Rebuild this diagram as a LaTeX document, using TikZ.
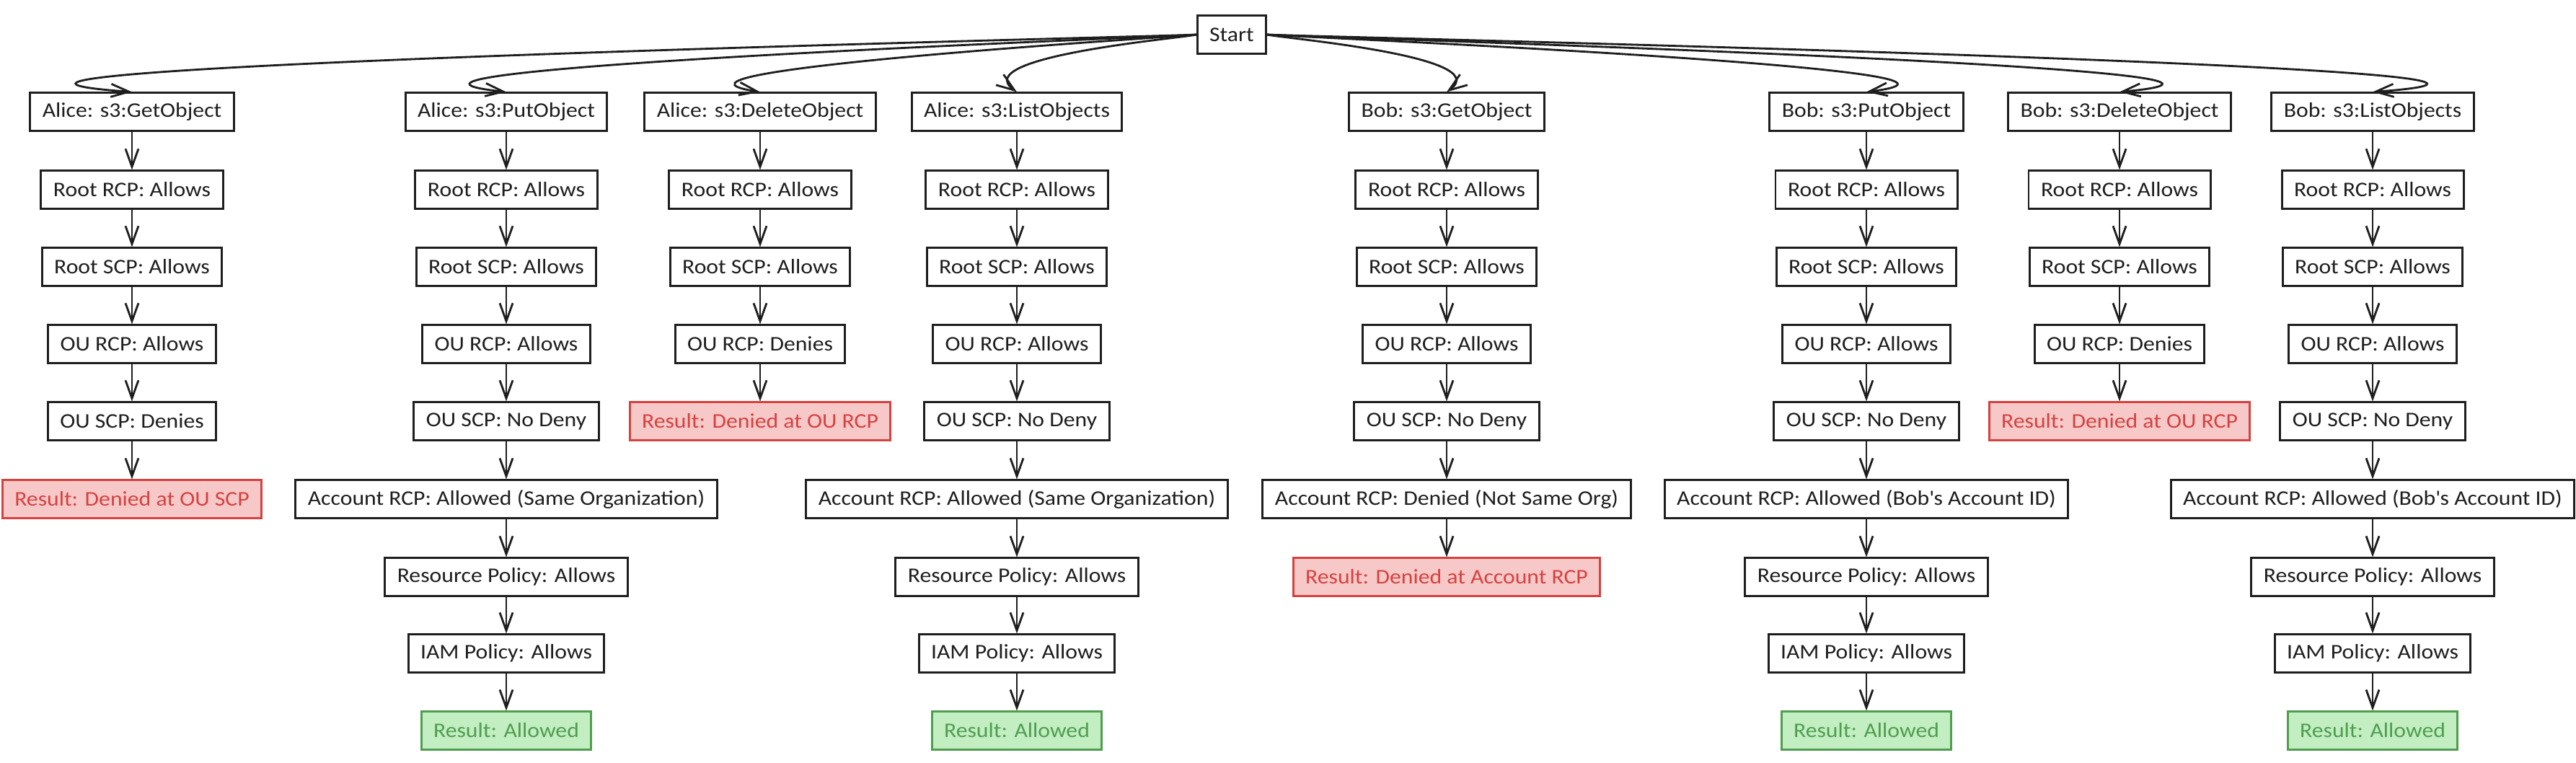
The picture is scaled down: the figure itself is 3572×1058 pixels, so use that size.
\documentclass[tikz,border=0pt]{standalone}
\usepackage{fontspec}
\setmainfont{Carlito}[FakeStretch=1.1]
\usetikzlibrary{arrows.meta}

\definecolor{denyfill}{HTML}{F7C8C8}
\definecolor{denyline}{HTML}{D5423F}
\definecolor{okfill}{HTML}{C2EEC2}
\definecolor{okline}{HTML}{4F9E4F}
\definecolor{ink}{HTML}{1E1E1E}

\begin{document}
\begin{tikzpicture}[x=0.01cm, y=-0.01cm,
    box/.style={draw=ink, line width=0.85pt, fill=white, text=ink,
        inner xsep=0.17cm, inner ysep=0pt, minimum height=0.52cm,
        font=\fontsize{8.2}{10}\selectfont},
    deny/.style={box, draw=denyline, fill=denyfill, text=denyline},
    ok/.style={box, draw=okline, fill=okfill, text=okline},
    link/.style={draw=ink, line width=0.8pt,
        -{Straight Barb[length=0.25cm, width=0.18cm]}}]

    \useasboundingbox (0,0) rectangle (3572,1058);

    % Start on top
    \node[box] (st) at (1708,48) {Start};

    % Alice: s3:GetObject
    \node[box] (ag1) at (183,155) {Alice: s3:GetObject};
    \node[box] (ag2) at (183,263) {Root RCP: Allows};
    \node[box] (ag3) at (183,370) {Root SCP: Allows};
    \node[box] (ag4) at (183,477) {OU RCP: Allows};
    \node[box] (ag5) at (183,584) {OU SCP: Denies};
    \node[deny] (ag6) at (183,692) {Result: Denied at OU SCP};

    % Alice: s3:PutObject
    \node[box] (ap1) at (702,155) {Alice: s3:PutObject};
    \node[box] (ap2) at (702,263) {Root RCP: Allows};
    \node[box] (ap3) at (702,370) {Root SCP: Allows};
    \node[box] (ap4) at (702,477) {OU RCP: Allows};
    \node[box] (ap5) at (702,584) {OU SCP: No Deny};
    \node[box] (ap6) at (702,692) {Account RCP: Allowed (Same Organization)};
    \node[box] (ap7) at (702,800) {Resource Policy: Allows};
    \node[box] (ap8) at (702,906) {IAM Policy: Allows};
    \node[ok] (ap9) at (702,1013) {Result: Allowed};

    % Alice: s3:DeleteObject
    \node[box] (ad1) at (1054,155) {Alice: s3:DeleteObject};
    \node[box] (ad2) at (1054,263) {Root RCP: Allows};
    \node[box] (ad3) at (1054,370) {Root SCP: Allows};
    \node[box] (ad4) at (1054,477) {OU RCP: Denies};
    \node[deny] (ad5) at (1054,584) {Result: Denied at OU RCP};

    % Alice: s3:ListObjects
    \node[box] (al1) at (1410,155) {Alice: s3:ListObjects};
    \node[box] (al2) at (1410,263) {Root RCP: Allows};
    \node[box] (al3) at (1410,370) {Root SCP: Allows};
    \node[box] (al4) at (1410,477) {OU RCP: Allows};
    \node[box] (al5) at (1410,584) {OU SCP: No Deny};
    \node[box] (al6) at (1410,692) {Account RCP: Allowed (Same Organization)};
    \node[box] (al7) at (1410,800) {Resource Policy: Allows};
    \node[box] (al8) at (1410,906) {IAM Policy: Allows};
    \node[ok] (al9) at (1410,1013) {Result: Allowed};

    % Bob: s3:GetObject
    \node[box] (bg1) at (2006,155) {Bob: s3:GetObject};
    \node[box] (bg2) at (2006,263) {Root RCP: Allows};
    \node[box] (bg3) at (2006,370) {Root SCP: Allows};
    \node[box] (bg4) at (2006,477) {OU RCP: Allows};
    \node[box] (bg5) at (2006,584) {OU SCP: No Deny};
    \node[box] (bg6) at (2006,692) {Account RCP: Denied (Not Same Org)};
    \node[deny] (bg7) at (2006,800) {Result: Denied at Account RCP};

    % Bob: s3:PutObject
    \node[box] (bp1) at (2588,155) {Bob: s3:PutObject};
    \node[box] (bp2) at (2588,263) {Root RCP: Allows};
    \node[box] (bp3) at (2588,370) {Root SCP: Allows};
    \node[box] (bp4) at (2588,477) {OU RCP: Allows};
    \node[box] (bp5) at (2588,584) {OU SCP: No Deny};
    \node[box] (bp6) at (2588,692) {Account RCP: Allowed (Bob\textquotesingle s Account ID)};
    \node[box] (bp7) at (2588,800) {Resource Policy: Allows};
    \node[box] (bp8) at (2588,906) {IAM Policy: Allows};
    \node[ok] (bp9) at (2588,1013) {Result: Allowed};

    % Bob: s3:DeleteObject
    \node[box] (bd1) at (2939,155) {Bob: s3:DeleteObject};
    \node[box] (bd2) at (2939,263) {Root RCP: Allows};
    \node[box] (bd3) at (2939,370) {Root SCP: Allows};
    \node[box] (bd4) at (2939,477) {OU RCP: Denies};
    \node[deny] (bd5) at (2939,584) {Result: Denied at OU RCP};

    % Bob: s3:ListObjects
    \node[box] (bl1) at (3290,155) {Bob: s3:ListObjects};
    \node[box] (bl2) at (3290,263) {Root RCP: Allows};
    \node[box] (bl3) at (3290,370) {Root SCP: Allows};
    \node[box] (bl4) at (3290,477) {OU RCP: Allows};
    \node[box] (bl5) at (3290,584) {OU SCP: No Deny};
    \node[box] (bl6) at (3290,692) {Account RCP: Allowed (Bob\textquotesingle s Account ID)};
    \node[box] (bl7) at (3290,800) {Resource Policy: Allows};
    \node[box] (bl8) at (3290,906) {IAM Policy: Allows};
    \node[ok] (bl9) at (3290,1013) {Result: Allowed};

    % curved edges out of Start
    \draw[link] (st.west) .. controls +(-10,2) and +(-473,-34) .. (ag1.north);
    \draw[link] (st.west) .. controls +(-10,2) and +(-302,-32) .. (ap1.north);
    \draw[link] (st.west) .. controls +(-10,2) and +(-198,-30) .. (ad1.north);
    \draw[link] (st.west) .. controls +(-10,4) and +(-70,-50) .. (al1.north);
    \draw[link] (st.east) .. controls +(10,4) and +(70,-50) .. (bg1.north);
    \draw[link] (st.east) .. controls +(10,2) and +(257,-32) .. (bp1.north);
    \draw[link] (st.east) .. controls +(10,2) and +(363,-33) .. (bd1.north);
    \draw[link] (st.east) .. controls +(10,2) and +(470,-34) .. (bl1.north);

    % straight chains
    \draw[link] (ag1) -- (ag2);
    \draw[link] (ag2) -- (ag3);
    \draw[link] (ag3) -- (ag4);
    \draw[link] (ag4) -- (ag5);
    \draw[link] (ag5) -- (ag6);

    \draw[link] (ap1) -- (ap2);
    \draw[link] (ap2) -- (ap3);
    \draw[link] (ap3) -- (ap4);
    \draw[link] (ap4) -- (ap5);
    \draw[link] (ap5) -- (ap6);
    \draw[link] (ap6) -- (ap7);
    \draw[link] (ap7) -- (ap8);
    \draw[link] (ap8) -- (ap9);

    \draw[link] (ad1) -- (ad2);
    \draw[link] (ad2) -- (ad3);
    \draw[link] (ad3) -- (ad4);
    \draw[link] (ad4) -- (ad5);

    \draw[link] (al1) -- (al2);
    \draw[link] (al2) -- (al3);
    \draw[link] (al3) -- (al4);
    \draw[link] (al4) -- (al5);
    \draw[link] (al5) -- (al6);
    \draw[link] (al6) -- (al7);
    \draw[link] (al7) -- (al8);
    \draw[link] (al8) -- (al9);

    \draw[link] (bg1) -- (bg2);
    \draw[link] (bg2) -- (bg3);
    \draw[link] (bg3) -- (bg4);
    \draw[link] (bg4) -- (bg5);
    \draw[link] (bg5) -- (bg6);
    \draw[link] (bg6) -- (bg7);

    \draw[link] (bp1) -- (bp2);
    \draw[link] (bp2) -- (bp3);
    \draw[link] (bp3) -- (bp4);
    \draw[link] (bp4) -- (bp5);
    \draw[link] (bp5) -- (bp6);
    \draw[link] (bp6) -- (bp7);
    \draw[link] (bp7) -- (bp8);
    \draw[link] (bp8) -- (bp9);

    \draw[link] (bd1) -- (bd2);
    \draw[link] (bd2) -- (bd3);
    \draw[link] (bd3) -- (bd4);
    \draw[link] (bd4) -- (bd5);

    \draw[link] (bl1) -- (bl2);
    \draw[link] (bl2) -- (bl3);
    \draw[link] (bl3) -- (bl4);
    \draw[link] (bl4) -- (bl5);
    \draw[link] (bl5) -- (bl6);
    \draw[link] (bl6) -- (bl7);
    \draw[link] (bl7) -- (bl8);
    \draw[link] (bl8) -- (bl9);

\end{tikzpicture}
\end{document}
